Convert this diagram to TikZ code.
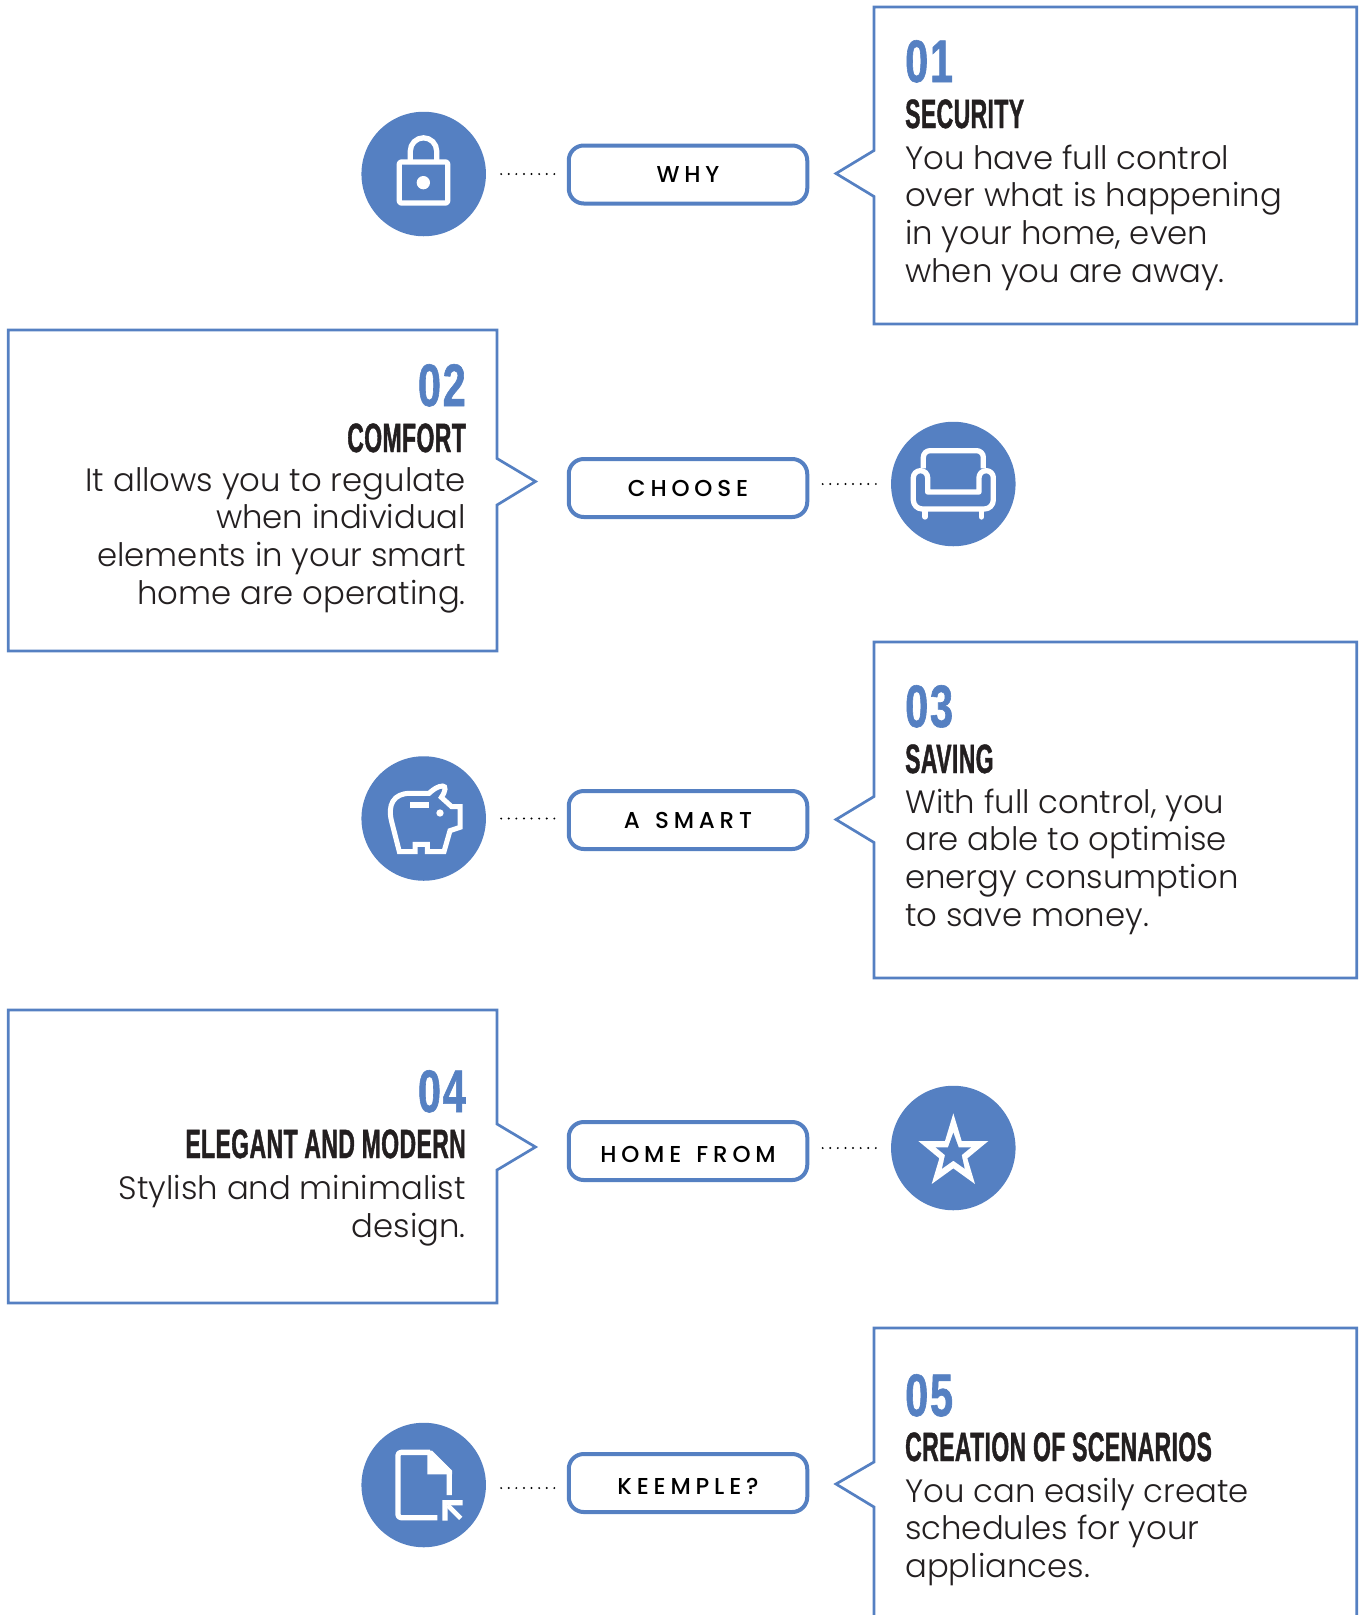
\documentclass[tikz,border=0pt]{standalone}
\usepackage{fontspec}
\usetikzlibrary{backgrounds}
\setmainfont{Poppins Light}
\newfontfamily\bodyfont{Poppins Light}
\newfontfamily\pillfont[LetterSpace=21,WordSpace=1.4]{Poppins Medium}
\newfontfamily\headfont[FakeStretch=0.56,FakeBold=1,LetterSpace=1]{Liberation Sans Bold}
\newfontfamily\numfont[FakeStretch=0.69,FakeBold=1,LetterSpace=3]{Liberation Sans Bold}
\definecolor{kblue}{HTML}{5580C2}
\definecolor{kbar}{HTML}{DDDFDE}
\definecolor{kink}{HTML}{231F20}
\tikzset{
  cardline/.style={draw=kblue,line width=2.7pt,miter limit=10},
  pill/.style={draw=kblue,fill=white,line width=4pt,rounded corners=15pt,minimum width=238.5pt,minimum height=58pt,inner sep=0pt,text height=16.5pt,text depth=0pt,font=\pillfont\fontsize{23}{24}\selectfont,text=black},
  iconcircle/.style={circle,fill=kblue,minimum size=124.5pt,inner sep=0pt},
  barline/.style={draw=kbar,line width=16pt},
  dotline/.style={draw=black,line width=2.2pt,line cap=round,dash pattern=on 0pt off 7.6pt,shorten <=15pt,shorten >=11pt},
  numtext/.style={font=\numfont\fontsize{60}{60}\selectfont,text=kblue,inner sep=0pt},
  headtext/.style={font=\headfont\fontsize{41}{41}\selectfont,text=kink,inner sep=0pt},
  bodytext/.style={font=\bodyfont\fontsize{32.3}{37.6}\selectfont,text=kink,inner sep=0pt},
  iconline/.style={draw=white,line width=5.3pt,line join=round},
  iconfill/.style={fill=white,draw=none},
  iconspace/.style={x=0.33333pt,y=-0.33333pt}
}
\begin{document}
\begin{tikzpicture}[x=1pt,y=-1pt]
\useasboundingbox (0,0) rectangle (1362,1615);
\fill[white] (0,0) rectangle (1362,1615);

% cards
\draw[cardline] (874,150.5) -- (874,7) -- (1356.7,7) -- (1356.7,324) -- (874,324) -- (874,196.5) -- (836,173.5) -- cycle;
\draw[cardline] (497,458.5) -- (497,330) -- (8.3,330) -- (8.3,651) -- (497,651) -- (497,505) -- (535.5,481.5) -- cycle;
\draw[cardline] (874,796.5) -- (874,642) -- (1356.7,642) -- (1356.7,978) -- (874,978) -- (874,842.5) -- (836,819.5) -- cycle;
\draw[cardline] (497,1124) -- (497,1010) -- (8.3,1010) -- (8.3,1303) -- (497,1303) -- (497,1170) -- (535.5,1147) -- cycle;
\draw[cardline] (874,1462) -- (874,1328) -- (1356.7,1328) -- (1356.7,1625) -- (874,1625) -- (874,1507) -- (836,1484) -- cycle;

% pills
\node[pill] (p1) at (688,174.5) {WHY};
\node[pill] (p2) at (688,488) {CHOOSE};
\node[pill] (p3) at (688,820) {A SMART};
\node[pill] (p4) at (688,1151) {\raisebox{-3pt}{HOME FROM}};
\node[pill] (p5) at (688,1483) {\raisebox{-3pt}{KEEMPLE?}};
\begin{scope}[on background layer]
\draw[barline] (p1.center) -- (p5.center);
\end{scope}

% circles
\node[iconcircle] (c1) at (423.7,174) {};
\node[iconcircle] (c2) at (953.3,484) {};
\node[iconcircle] (c3) at (423.7,818.5) {};
\node[iconcircle] (c4) at (953.3,1148) {};
\node[iconcircle] (c5) at (423.7,1485) {};

% dotted connectors
\draw[dotline] (c1.east) -- (c1.east -| p1.west);
\draw[dotline] (c2.west) -- (c2.west -| p2.east);
\draw[dotline] (c3.east) -- (c3.east -| p3.west);
\draw[dotline] (c4.west) -- (c4.west -| p4.east);
\draw[dotline] ([yshift=-3pt]c5.east) -- ([yshift=-3pt]c5.east -| p5.west);

% card texts
\node[numtext,anchor=base west] (n1) at (905,82) {01};
\node[headtext,anchor=base west] (h1) at (905,128) {SECURITY};
\node[bodytext,align=left,anchor=base west] (b1) at (905,282) {You have full control\\over what is happening\\in your home, even\\when you are away.};

\node[numtext,anchor=base east] (n2) at (466,406) {02};
\node[headtext,anchor=base east] (h2) at (466,452) {COMFORT};
\node[bodytext,align=right,anchor=base east] (b2) at (466,604) {It allows you to regulate\\when individual\\elements in your smart\\home are operating.};

\node[numtext,anchor=base west] (n3) at (905,727) {03};
\node[headtext,anchor=base west] (h3) at (905,773) {SAVING};
\node[bodytext,align=left,anchor=base west] (b3) at (905,926) {With full control, you\\are able to optimise\\energy consumption\\to save money.};

\node[numtext,anchor=base east] (n4) at (466,1112) {04};
\node[headtext,anchor=base east] (h4) at (466,1158) {ELEGANT AND MODERN};
\node[bodytext,align=right,anchor=base east] (b4) at (466,1237) {Stylish and minimalist\\design.};

\node[numtext,anchor=base west] (n5) at (905,1416) {05};
\node[headtext,anchor=base west] (h5) at (905,1461) {CREATION OF SCENARIOS};
\node[bodytext,align=left,anchor=base west] (b5) at (905,1577.5) {You can easily create\\schedules for your\\appliances.};

% lock icon
\begin{scope}[iconspace,xshift=340pt,yshift=-90pt]
\draw[iconline,rounded corners=2pt] (178,216) rectangle (323,339);
\draw[iconline] (211,216) -- (211,183) arc[start angle=180,end angle=360,x radius=39.5,y radius=39.5] -- (290,216);
\fill[white] (250,278) circle[radius=20];
\end{scope}

% sofa icon
\begin{scope}[iconspace,xshift=860pt,yshift=-400pt]
\draw[iconline] (190,205) -- (190,172) arc[start angle=180,end angle=270,radius=20] -- (350,152) arc[start angle=270,end angle=360,radius=20] -- (370,205);
\draw[iconline] (160,300) -- (160,233) arc[start angle=180,end angle=360,x radius=21.5,y radius=21] -- (203,276) -- (357,276) -- (357,233) arc[start angle=180,end angle=360,x radius=21.5,y radius=21] -- (400,300) arc[start angle=0,end angle=90,radius=27] -- (187,327) arc[start angle=90,end angle=180,radius=27] -- cycle;
\draw[iconline,line cap=round] (195,335) -- (195,351);
\draw[iconline,line cap=round] (364,335) -- (364,351);
\end{scope}

% piggy icon
\begin{scope}[iconspace,xshift=350pt,yshift=-740pt]
\draw[iconline,line width=5pt,line join=miter] (148,335) -- (125,245) .. controls (112,195) and (130,160) .. (180,160) -- (237,160) .. controls (250,148) and (265,138) .. (278,138) .. controls (288,138) and (288,152) .. (274,172) -- (305,200) -- (330,200) -- (330,262) -- (300,272) -- (282,335) -- (232,335) -- (232,313) -- (195,313) -- (195,335) -- cycle;
\fill[white] (180,187) rectangle (237,203);
\fill[white] (270,219) circle[radius=11];
\end{scope}

% star icon
\begin{scope}[iconspace,xshift=860pt,yshift=-1070pt]
\fill[white] (280,130) -- (305,213) -- (385,213) -- (322,265) -- (345,342) -- (280,295) -- (215,342) -- (238,265) -- (175,213) -- (255,213) -- cycle;
\fill[kblue] (280,188) -- (296,232) -- (333,232) -- (305,255) -- (314,296) -- (280,272) -- (246,296) -- (255,255) -- (227,232) -- (264,232) -- cycle;
\end{scope}

% file icon
\begin{scope}[iconspace,xshift=350pt,yshift=-1410pt]
\draw[iconline,rounded corners=3pt] (262,323) -- (144,323) -- (144,127) -- (240,127);
\draw[iconline] (240,127) -- (298,185) -- (298,255);
\fill[white] (232,122) -- (243,122) -- (306,182) -- (306,193) -- (232,193) -- cycle;
\fill[white] (277,270) -- (338,270) -- (338,286) -- (293,286) -- (293,332) -- (277,332) -- cycle;
\draw[iconline,line width=4.6pt] (293,286) -- (332,325);
\end{scope}
\end{tikzpicture}
\end{document}
